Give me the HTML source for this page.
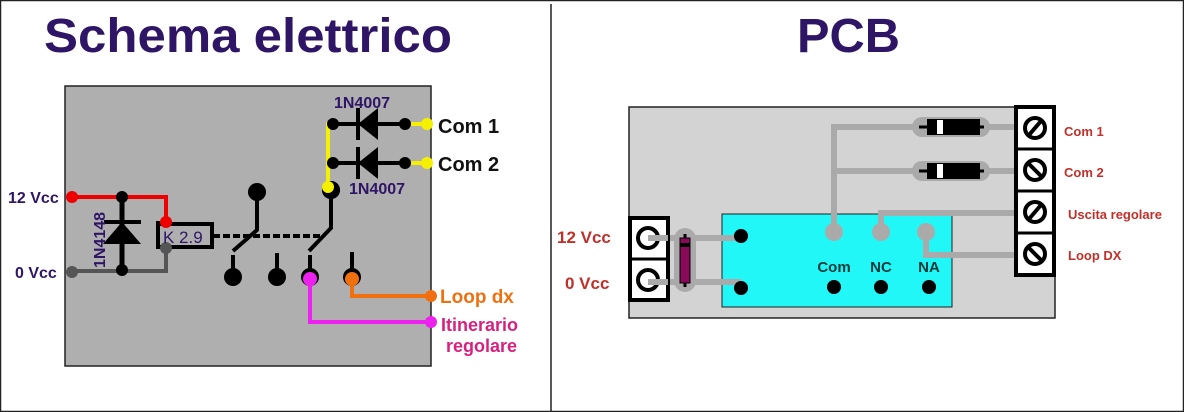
<!DOCTYPE html>
<html><head><meta charset="utf-8"><style>
html,body{margin:0;padding:0;background:#fff;}
svg{display:block;}
text{font-family:"Liberation Sans",sans-serif;font-weight:bold;}
</style></head><body>
<svg width="1184" height="412" viewBox="0 0 1184 412" xmlns="http://www.w3.org/2000/svg">
<rect x="0.5" y="0.5" width="1183" height="411" fill="#fff" stroke="#222" stroke-width="1.5"/>
<line x1="551" y1="4" x2="551" y2="412" stroke="#222" stroke-width="1.5"/>
<text x="44" y="52" font-size="48" fill="#2f1566" textLength="408" lengthAdjust="spacingAndGlyphs">Schema elettrico</text>
<text x="797" y="52" font-size="48" fill="#2f1566" textLength="103" lengthAdjust="spacingAndGlyphs">PCB</text>

<!-- LEFT -->
<rect x="65" y="86" width="366" height="280" fill="#afafaf" stroke="#222" stroke-width="1.5"/>
<polyline points="72,197 166,197 166,222" fill="none" stroke="#ee0000" stroke-width="4"/>
<polyline points="72,271 166,271 166,248" fill="none" stroke="#555" stroke-width="4"/>
<line x1="122" y1="197" x2="122" y2="270" stroke="#000" stroke-width="5"/>
<line x1="104" y1="222" x2="141" y2="222" stroke="#000" stroke-width="4"/>
<polygon points="122,222 103,244 141,244" fill="#000"/>
<circle cx="122" cy="197" r="6" fill="#000"/>
<circle cx="122" cy="270" r="6" fill="#000"/>
<circle cx="72" cy="197" r="6" fill="#ee0000"/>
<circle cx="72" cy="272" r="6" fill="#555"/>
<text transform="translate(105,268) rotate(-90)" font-size="16" fill="#2f1566">1N4148</text>
<rect x="158" y="224" width="54" height="23" fill="none" stroke="#000" stroke-width="4"/>
<line x1="158" y1="221" x2="158" y2="249" stroke="#000" stroke-width="4"/>
<circle cx="166" cy="222" r="6" fill="#ee0000"/>
<circle cx="166" cy="248" r="6" fill="#555"/>
<text x="163" y="243" font-size="17" fill="#2f1566" style="font-weight:normal">K 2.9</text>
<line x1="213" y1="236" x2="322" y2="236" stroke="#000" stroke-width="4" stroke-dasharray="7,3"/>
<circle cx="257" cy="192" r="9" fill="#000"/>
<polyline points="257,192 257,230 233,251" fill="none" stroke="#000" stroke-width="4"/>
<line x1="233" y1="255" x2="233" y2="272" stroke="#000" stroke-width="4"/>
<circle cx="233" cy="277" r="9" fill="#000"/>
<line x1="277" y1="253" x2="277" y2="272" stroke="#000" stroke-width="4"/>
<circle cx="277" cy="277" r="9" fill="#000"/>
<circle cx="331" cy="190" r="9" fill="#000"/>
<polyline points="331,190 331,228 309,251" fill="none" stroke="#000" stroke-width="4"/>
<line x1="310" y1="255" x2="310" y2="272" stroke="#000" stroke-width="4"/>
<circle cx="310" cy="277" r="9" fill="#000"/>
<line x1="352" y1="252" x2="352" y2="272" stroke="#000" stroke-width="4"/>
<circle cx="352" cy="277" r="9" fill="#000"/>
<polyline points="310,279 310,322 431,322" fill="none" stroke="#ee22ee" stroke-width="4"/>
<circle cx="310" cy="279" r="7" fill="#ee22ee"/>
<circle cx="431" cy="322" r="6" fill="#ee22ee"/>
<polyline points="352,279 352,296 431,296" fill="none" stroke="#f07010" stroke-width="4"/>
<circle cx="352" cy="279" r="7" fill="#f07010"/>
<circle cx="431" cy="296" r="6" fill="#f07010"/>
<text x="440" y="303" font-size="19" fill="#f07010">Loop dx</text>
<text x="441" y="331" font-size="18" fill="#d8207f">Itinerario</text>
<text x="446" y="352" font-size="18" fill="#d8207f">regolare</text>
<polyline points="333,124 328,124 328,188" fill="none" stroke="#f5f000" stroke-width="4"/>
<line x1="333" y1="124" x2="405" y2="124" stroke="#000" stroke-width="4"/>
<line x1="333" y1="163" x2="405" y2="163" stroke="#000" stroke-width="4"/>
<line x1="405" y1="124" x2="427" y2="124" stroke="#f5f000" stroke-width="4"/>
<line x1="405" y1="163" x2="427" y2="163" stroke="#f5f000" stroke-width="4"/>
<line x1="358" y1="108" x2="358" y2="140" stroke="#000" stroke-width="4"/>
<polygon points="358,124 378,108 378,140" fill="#000"/>
<line x1="358" y1="147" x2="358" y2="179" stroke="#000" stroke-width="4"/>
<polygon points="358,163 378,147 378,179" fill="#000"/>
<circle cx="333" cy="124" r="6" fill="#000"/>
<circle cx="405" cy="124" r="6" fill="#000"/>
<circle cx="333" cy="163" r="6" fill="#000"/>
<circle cx="405" cy="163" r="6" fill="#000"/>
<circle cx="427" cy="124" r="6" fill="#f5f000"/>
<circle cx="427" cy="163" r="6" fill="#f5f000"/>
<circle cx="331" cy="190" r="9" fill="#000"/>
<circle cx="328" cy="187" r="6" fill="#f5f000"/>
<text x="334" y="108" font-size="16" fill="#2f1566">1N4007</text>
<text x="349" y="194" font-size="16" fill="#2f1566">1N4007</text>
<text x="438" y="133" font-size="20" fill="#111">Com 1</text>
<text x="438" y="171" font-size="20" fill="#111">Com 2</text>
<text x="8" y="203" font-size="16" fill="#2f1566">12 Vcc</text>
<text x="15" y="278" font-size="16" fill="#2f1566">0 Vcc</text>

<!-- RIGHT -->
<rect x="629" y="107" width="426" height="211" fill="#d3d3d3" stroke="#222" stroke-width="1.5"/>
<rect x="722" y="214" width="230" height="93" fill="#22f7f7" stroke="#222" stroke-width="1"/>
<g fill="none" stroke="#aaaaaa" stroke-width="6">
<polyline points="834,232 834,127 916,127"/>
<polyline points="834,171 916,171"/>
<line x1="987" y1="127" x2="1016" y2="127"/>
<line x1="987" y1="171" x2="1016" y2="171"/>
<polyline points="881,232 881,213 1016,213"/>
<polyline points="926,232 926,255 1016,255"/>
<line x1="647" y1="238" x2="741" y2="238"/>
<line x1="647" y1="282" x2="741" y2="282"/>
</g>
<rect x="912" y="117" width="78" height="20" rx="10" fill="#aaaaaa"/>
<rect x="912" y="161" width="78" height="20" rx="10" fill="#aaaaaa"/>
<rect x="674" y="228" width="22" height="64" rx="11" fill="#aaaaaa"/>
<line x1="919" y1="127" x2="984" y2="127" stroke="#000" stroke-width="3"/>
<rect x="927" y="119" width="53" height="16" fill="#000"/>
<rect x="937" y="120" width="6" height="14" fill="#fff"/>
<line x1="919" y1="171" x2="984" y2="171" stroke="#000" stroke-width="3"/>
<rect x="927" y="163" width="53" height="16" fill="#000"/>
<rect x="937" y="164" width="6" height="14" fill="#fff"/>
<line x1="685" y1="234" x2="685" y2="287" stroke="#000" stroke-width="3"/>
<rect x="680" y="238" width="10" height="45" fill="#8a0a5a" stroke="#000" stroke-width="1"/>
<rect x="680" y="243" width="10" height="4" fill="#000"/>
<circle cx="834" cy="232" r="9" fill="#aaaaaa"/>
<circle cx="881" cy="232" r="9" fill="#aaaaaa"/>
<circle cx="926" cy="232" r="9" fill="#aaaaaa"/>
<circle cx="741" cy="236" r="7" fill="#000"/>
<circle cx="741" cy="288" r="7" fill="#000"/>
<circle cx="834" cy="287" r="7" fill="#000"/>
<circle cx="881" cy="287" r="7" fill="#000"/>
<circle cx="929" cy="287" r="7" fill="#000"/>
<text x="834" y="272" font-size="15" fill="#0a3a3a" text-anchor="middle">Com</text>
<text x="881" y="272" font-size="15" fill="#0a3a3a" text-anchor="middle">NC</text>
<text x="929" y="272" font-size="15" fill="#0a3a3a" text-anchor="middle">NA</text>
<rect x="1016" y="107" width="38" height="168" fill="#fff" stroke="#000" stroke-width="4"/>
<g stroke="#000" stroke-width="3">
<line x1="1016" y1="149" x2="1054" y2="149"/><line x1="1016" y1="191" x2="1054" y2="191"/><line x1="1016" y1="233" x2="1054" y2="233"/>
</g>
<g fill="none" stroke="#000" stroke-width="4">
<circle cx="1035" cy="128" r="10"/><circle cx="1035" cy="170" r="10"/><circle cx="1035" cy="212" r="10"/><circle cx="1035" cy="254" r="10"/>
<line x1="1029" y1="135" x2="1041" y2="121"/><line x1="1029" y1="164" x2="1041" y2="176"/><line x1="1029" y1="219" x2="1041" y2="205"/><line x1="1029" y1="248" x2="1041" y2="260"/>
</g>
<rect x="630" y="218" width="38" height="82" fill="#fff" stroke="#000" stroke-width="4"/>
<line x1="630" y1="259" x2="668" y2="259" stroke="#000" stroke-width="3"/>
<g fill="none" stroke="#000" stroke-width="4">
<circle cx="648" cy="238" r="10"/><circle cx="648" cy="280" r="10"/>
</g>
<line x1="648" y1="238" x2="668" y2="238" stroke="#aaaaaa" stroke-width="6"/>
<line x1="648" y1="282" x2="668" y2="282" stroke="#aaaaaa" stroke-width="6"/>
<text x="1064" y="136" font-size="13" fill="#c0302a">Com 1</text>
<text x="1064" y="177" font-size="13" fill="#c0302a">Com 2</text>
<text x="1068" y="219" font-size="13" fill="#c0302a">Uscita regolare</text>
<text x="1068" y="260" font-size="13" fill="#c0302a">Loop DX</text>
<text x="557" y="243" font-size="17" fill="#c0302a">12 Vcc</text>
<text x="565" y="289" font-size="17" fill="#c0302a">0 Vcc</text>
</svg>
</body></html>
